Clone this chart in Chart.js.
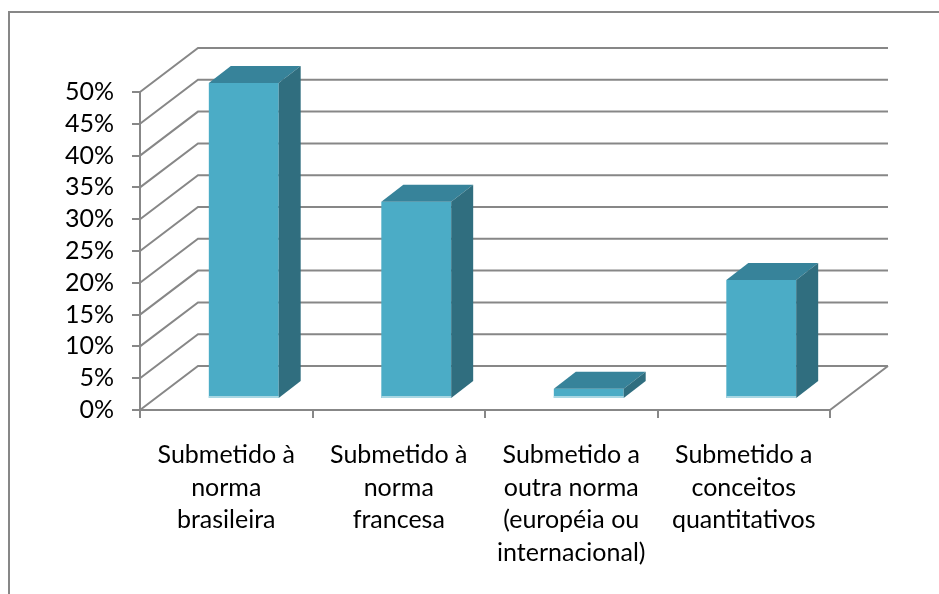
<!DOCTYPE html>
<html>
<head>
<meta charset="utf-8">
<script src="https://cdn.jsdelivr.net/npm/chart.js@4.4.0/dist/chart.umd.min.js"></script>
<style>
  html, body { margin: 0; padding: 0; background: #fff; }
  #wrap { width: 939px; height: 594px; position: relative; }
</style>
</head>
<body>
<div id="wrap"><canvas id="js--chart"></canvas></div>
<script>
const categories = [
  ["Submetido à", "norma", "brasileira"],
  ["Submetido à", "norma", "francesa"],
  ["Submetido a", "outra norma", "(européia ou", "internacional)"],
  ["Submetido a", "conceitos", "quantitativos"]
];
const percentages = [49.7, 31.0, 1.6, 18.7];
const yMax = 50;
const yStep = 5;

const gridColor = "#878787";
const frontColor = "#4bacc6";
const topColor = "#37839a";
const sideColor = "#306e7f";

// offsets for the fake 3d look
const wall = { dx: 58, dy: -44 };
const barShift = { dx: 17.5, dy: -11 };
const barDepth = { dx: 22, dy: -17 };

const box3d = {
  id: "box3d",
  beforeDraw(chart) {
    const ctx = chart.ctx;
    ctx.save();
    ctx.strokeStyle = gridColor;
    ctx.lineWidth = 2;
    ctx.beginPath();
    ctx.moveTo(9, chart.height);
    ctx.lineTo(9, 12);
    ctx.lineTo(chart.width, 12);
    ctx.stroke();
    ctx.restore();
  },
  beforeDatasetsDraw(chart) {
    const ctx = chart.ctx;
    const a = chart.chartArea;
    const y = chart.scales.y;
    ctx.save();
    ctx.strokeStyle = gridColor;
    ctx.lineWidth = 2;
    ctx.beginPath();
    y.ticks.forEach(function(t) {
      const py = y.getPixelForValue(t.value);
      ctx.moveTo(a.left, py);
      ctx.lineTo(a.left + wall.dx, py + wall.dy);
      ctx.lineTo(a.right + wall.dx, py + wall.dy);
    });
    ctx.moveTo(a.right, a.bottom);
    ctx.lineTo(a.right + wall.dx, a.bottom + wall.dy);
    ctx.stroke();
    ctx.restore();

    // bars stand a bit inside the floor
    ctx.save();
    ctx.translate(barShift.dx, barShift.dy);
  },
  afterDatasetsDraw(chart) {
    const ctx = chart.ctx;
    const dx = barDepth.dx, dy = barDepth.dy;
    chart.getDatasetMeta(0).data.forEach(function(bar) {
      const l = bar.x - bar.width / 2;
      const r = bar.x + bar.width / 2;
      const t = bar.y;
      const b = bar.base;

      ctx.fillStyle = topColor;
      ctx.beginPath();
      ctx.moveTo(l, t);
      ctx.lineTo(l + dx, t + dy);
      ctx.lineTo(r + dx, t + dy);
      ctx.lineTo(r, t);
      ctx.closePath();
      ctx.fill();

      ctx.fillStyle = sideColor;
      ctx.beginPath();
      ctx.moveTo(r, t);
      ctx.lineTo(r + dx, t + dy);
      ctx.lineTo(r + dx, b + dy);
      ctx.lineTo(r, b);
      ctx.closePath();
      ctx.fill();

      ctx.fillStyle = "#a9d7e3";
      ctx.fillRect(l, b - 2, r - l, 2);
    });
    ctx.restore();
  }
};

Chart.defaults.font.family = "Lato, 'Open Sans', sans-serif";
Chart.defaults.font.size = 25;
Chart.defaults.color = "#000";

const data = {
  labels: categories,
  datasets: [
    {
      data: percentages,
      backgroundColor: frontColor,
      borderWidth: 0,
      categoryPercentage: 1,
      barPercentage: 0.405,
      clip: false
    }
  ]
};

const config = {
  type: "bar",
  data: data,
  plugins: [box3d],
  options: {
    responsive: true,
    maintainAspectRatio: false,
    animation: false,
    devicePixelRatio: 1,
    layout: { padding: { left: 9, top: 92, right: 109, bottom: 0 } },
    plugins: {
      legend: { display: false },
      tooltip: { enabled: false }
    },
    scales: {
      x: {
        afterFit: function(scale) { scale.height = 184; },
        grid: {
          drawOnChartArea: false,
          tickLength: 8,
          color: gridColor,
          lineWidth: 2
        },
        border: { display: true, color: gridColor, width: 2 },
        ticks: {
          maxRotation: 0,
          autoSkip: false,
          padding: 21,
          font: { size: 25, lineHeight: 1.3 }
        }
      },
      y: {
        min: 0,
        max: yMax,
        afterFit: function(scale) { scale.width = 131; },
        grid: {
          drawOnChartArea: false,
          tickLength: 8,
          color: gridColor,
          lineWidth: 2
        },
        border: { display: true, color: gridColor, width: 2 },
        ticks: {
          stepSize: yStep,
          autoSkip: false,
          padding: 18,
          callback: function(v) { return v + "%"; }
        }
      }
    }
  }
};

new Chart(document.getElementById("js--chart"), config);
</script>
</body>
</html>
